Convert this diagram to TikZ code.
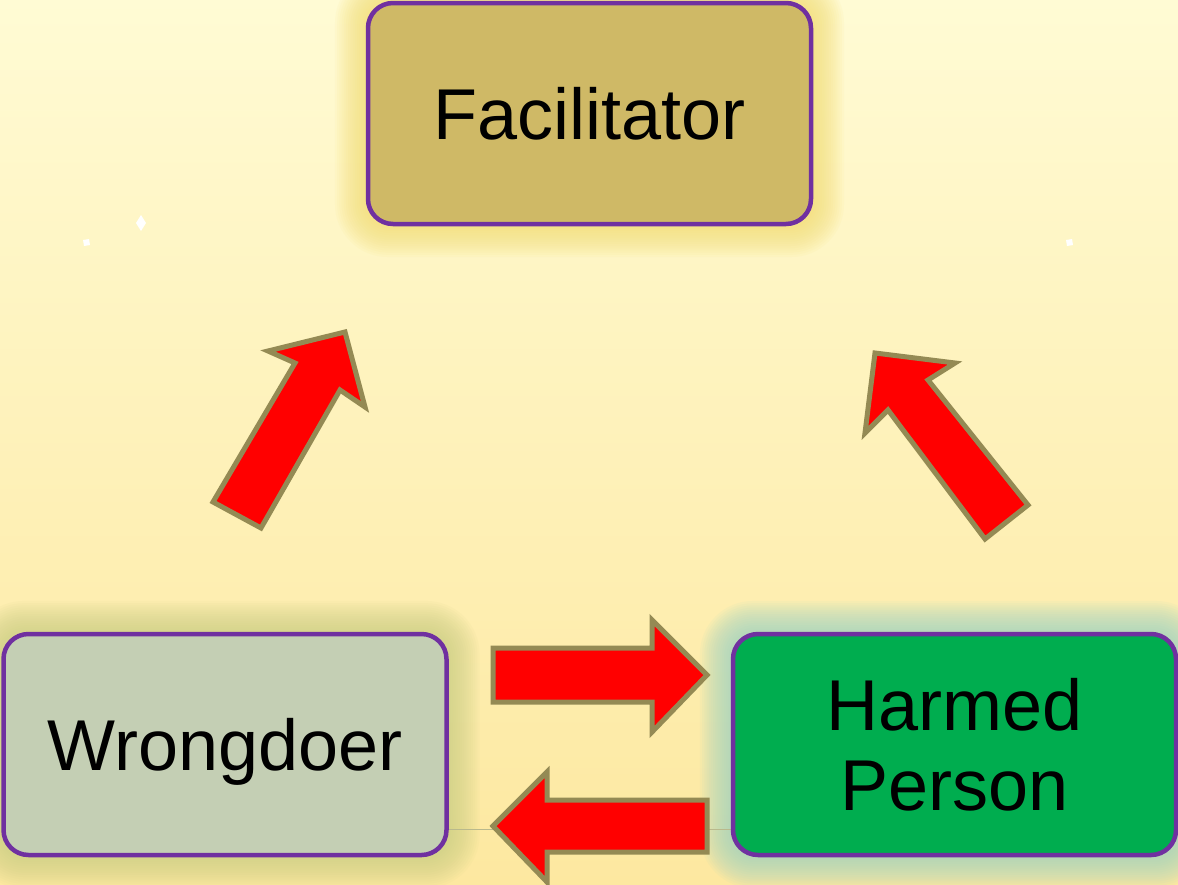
\documentclass[tikz,border=0pt]{standalone}
\usepackage{fontspec}
\setmainfont{Liberation Sans}
\usetikzlibrary{calc}
\definecolor{bgtop}{RGB}{255,251,212}
\definecolor{bgbot}{RGB}{253,232,160}
\definecolor{facfill}{RGB}{207,185,102}
\definecolor{wrongfill}{RGB}{196,207,180}
\definecolor{harmfill}{RGB}{0,173,79}
\definecolor{boxline}{RGB}{112,48,160}
\definecolor{arrline}{RGB}{148,138,84}
\definecolor{glowfac}{RGB}{245,220,110}
\definecolor{glowwrong}{RGB}{200,205,130}
\definecolor{glowharm}{RGB}{150,210,200}
\definecolor{faint}{RGB}{185,185,140}
\tikzset{
  rolebox/.style={draw=boxline, line width=4.5pt, rounded corners=25pt,
    inner sep=0pt, minimum width=443pt, minimum height=221pt,
    font=\fontsize{72}{80}\selectfont, text depth=0pt, align=center},
  blockarrow/.style={fill=red, draw=arrline, line width=5pt, line join=miter},
  sparkle/.style={fill=white, draw=none},
}
\newcommand{\glowbox}[2]{%
  \foreach \k in {1,...,14}{%
    \fill[#2, opacity=0.07, rounded corners=\k*2pt+25pt]
      ($(#1.south west)+(-\k*2.2pt,-\k*2.2pt)$) rectangle ($(#1.north east)+(\k*2.2pt,\k*2.2pt)$);
  }}
\begin{document}
\begin{tikzpicture}[x=1pt,y=-1pt]
\useasboundingbox (0,0) rectangle (1178,884);
\shade[top color=bgtop, bottom color=bgbot] (0,0) rectangle (1178,884);
% sparkles
\fill[sparkle] (141,215) -- (146,223) -- (141,231) -- (136,223) -- cycle;
\fill[sparkle] (83,240) -- (89,239) -- (90,245) -- (84,246) -- cycle;
\fill[sparkle] (1066,240) -- (1072,239) -- (1073,245) -- (1067,246) -- cycle;
% box placeholders for glows
\path (589.5,113.5) node[rolebox, draw=none] (fg) {};
\path (225,744.5) node[rolebox, draw=none] (wg) {};
\path (954.5,744.5) node[rolebox, draw=none] (hg) {};
\glowbox{fg}{glowfac}
\glowbox{wg}{glowwrong}
\glowbox{hg}{glowharm}
% faint line
\draw[faint, line width=1.5pt] ($(wg.south east)+(0,28pt)$) -- ($(hg.south west)+(0,28pt)$);
% boxes
\node[rolebox, fill=facfill] (fac) at (589.5,113.5) {Facilitator};
\node[rolebox, fill=wrongfill] (wro) at (225,744.5) {Wrongdoer};
\node[rolebox, fill=harmfill] (har) at (954.5,744.5) {Harmed\\Person};
% block arrows
\draw[blockarrow] (213,502) -- (295,363) -- (268,351) -- (345,332) -- (365,407) -- (340,390) -- (261,528) -- cycle;
\draw[blockarrow] (875,353) -- (955,363) -- (928,380) -- (1028,505) -- (985,539) -- (888,410) -- (865,433) -- cycle;
\draw[blockarrow] (493,648) -- (652,648) -- (652,620) -- (707,675) -- (652,732) -- (652,702) -- (493,702) -- cycle;
\draw[blockarrow] (493,826) -- (547,772) -- (547,800) -- (707,800) -- (707,852) -- (547,852) -- (547,882) -- cycle;
\end{tikzpicture}
\end{document}
